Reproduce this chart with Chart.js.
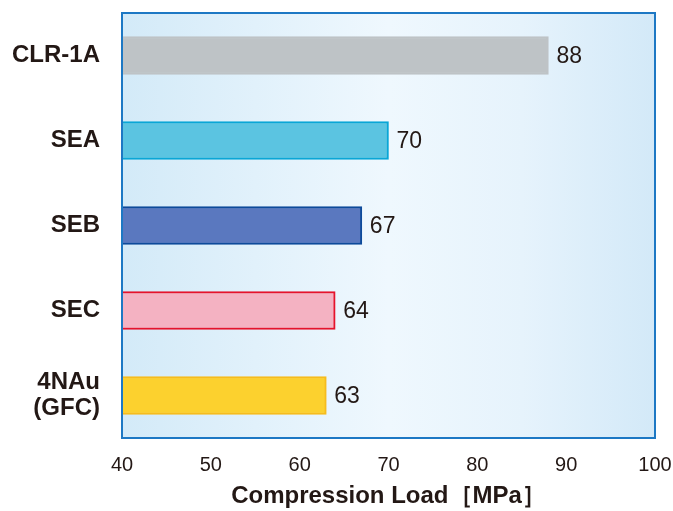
<!DOCTYPE html>
<html>
<head>
<meta charset="utf-8">
<script src="https://cdn.jsdelivr.net/npm/chart.js@4/dist/chart.umd.min.js"></script>
<style>
  html, body { margin: 0; padding: 0; background: #fff; }
  canvas { display: block; }
</style>
</head>
<body>
<canvas id="canvasOne" width="673" height="511"></canvas>
<script>
// data
var categories = ['CLR-1A', 'SEA', 'SEB', 'SEC', ['4NAu', '(GFC)']];
var loads = [88, 70, 67, 64, 63];
var xTicks = [40, 50, 60, 70, 80, 90, 100];
var xTitle = 'Compression Load［MPa］';

var fills = ['#bec3c6', '#5bc4e1', '#5a78bf', '#f4b2c2', '#fcd12e'];
var edges = ['#bec3c6', '#0aa6d6', '#0d4a9a', '#e5132c', '#f6bc1d'];
var ink = '#231815';
var face = '"Liberation Sans", Arial, sans-serif';

var bgPlugin = {
    id: 'plotBg',
    beforeDraw: function(chart) {
        var a = chart.chartArea;
        var ctx = chart.ctx;
        var g = ctx.createLinearGradient(a.left, 0, a.right, 0);
        g.addColorStop(0, '#d3eaf8');
        g.addColorStop(0.5, '#eff8fe');
        g.addColorStop(0.75, '#e6f3fc');
        g.addColorStop(1, '#d3e9f8');
        ctx.save();
        ctx.fillStyle = g;
        ctx.fillRect(a.left, a.top, a.right - a.left, a.bottom - a.top);
        ctx.restore();
    },
    afterDraw: function(chart) {
        var a = chart.chartArea;
        var ctx = chart.ctx;
        ctx.save();
        ctx.strokeStyle = '#1d78c4';
        ctx.lineWidth = 2;
        ctx.strokeRect(a.left, a.top, a.right - a.left, a.bottom - a.top);
        ctx.restore();
    }
};

var valuePlugin = {
    id: 'values',
    afterDatasetsDraw: function(chart) {
        var ctx = chart.ctx;
        var meta = chart.getDatasetMeta(0);
        ctx.save();
        ctx.font = '23px ' + face;
        ctx.fillStyle = ink;
        ctx.textBaseline = 'middle';
        ctx.textAlign = 'left';
        meta.data.forEach(function(bar, i) {
            ctx.fillText(String(loads[i]), bar.x + 8, bar.y + 1);
        });
        ctx.restore();
    }
};

var ctx = document.getElementById('canvasOne').getContext('2d');
var chart = new Chart(ctx, {
    type: 'bar',
    data: {
        labels: categories,
        datasets: [{
            data: loads,
            backgroundColor: fills,
            borderColor: edges,
            borderWidth: 2,
            borderSkipped: false,
            barThickness: 38
        }]
    },
    options: {
        indexAxis: 'y',
        responsive: false,
        animation: false,
        layout: { padding: { top: 13, right: 18, left: 0, bottom: 0 } },
        plugins: {
            legend: { display: false },
            tooltip: { enabled: false }
        },
        scales: {
            x: {
                min: 40,
                max: 100,
                afterBuildTicks: function(scale) {
                    scale.ticks = xTicks.map(function(v) { return { value: v }; });
                },
                grid: { display: false, drawTicks: false },
                border: { display: false },
                ticks: {
                    color: ink,
                    padding: 15,
                    font: { family: face, size: 20 }
                },
                title: {
                    display: true,
                    text: xTitle,
                    color: ink,
                    padding: { top: 5, bottom: 0 },
                    font: { family: face, size: 24, weight: 'bold' }
                },
                afterFit: function(scale) {
                    scale.height = 73;
                    scale.paddingLeft = 0;
                    scale.paddingRight = 0;
                }
            },
            y: {
                grid: { display: false, drawTicks: false },
                border: { display: false },
                ticks: {
                    color: ink,
                    padding: 22,
                    font: { family: face, size: 24, weight: 'bold', lineHeight: 1.1 }
                },
                afterFit: function(scale) {
                    scale.width = 122;
                    scale.paddingTop = 0;
                    scale.paddingBottom = 0;
                }
            }
        }
    },
    plugins: [bgPlugin, valuePlugin]
});
</script>
</body>
</html>
